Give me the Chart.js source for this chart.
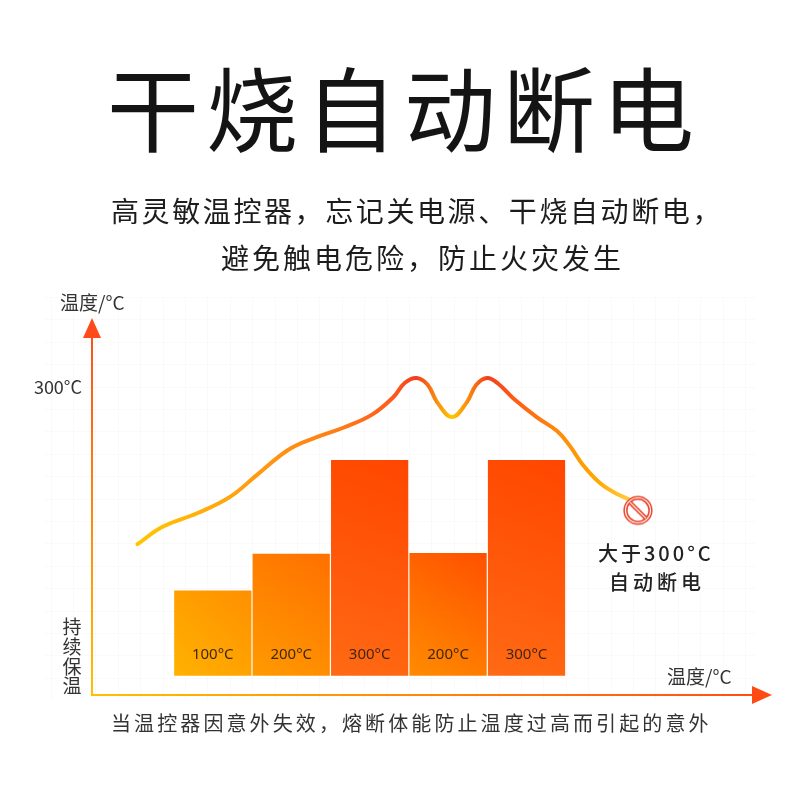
<!DOCTYPE html>
<html><head><meta charset="utf-8">
<script src="https://cdn.jsdelivr.net/npm/chart.js@4.4.1/dist/chart.umd.min.js"></script>
<style>
html,body{margin:0;padding:0;background:#fff;}
#wrap{position:relative;width:800px;height:800px;overflow:hidden;font-family:"Noto Sans CJK SC","Noto Sans",sans-serif;}
#c{position:absolute;left:0;top:0;}
.t{position:absolute;white-space:nowrap;}
#title{left:107px;top:59px;font-size:92px;line-height:92px;font-weight:400;color:#141414;letter-spacing:7px;}
#sub1{left:111px;top:196px;font-size:28px;line-height:28px;color:#1c1c1c;letter-spacing:2.6px;}
#sub2{left:221px;top:243px;font-size:28px;line-height:28px;color:#1c1c1c;letter-spacing:3px;}
#foot{left:111px;top:713px;font-size:20px;line-height:20px;color:#333;letter-spacing:3.1px;}
</style></head>
<body><div id="wrap">
<canvas id="c" width="800" height="800"></canvas>
<div class="t" id="title">干烧自动断电</div>
<div class="t" id="sub1">高灵敏温控器，忘记关电源、干烧自动断电，</div>
<div class="t" id="sub2">避免触电危险，防止火灾发生</div>
<div class="t" id="foot">当温控器因意外失效，熔断体能防止温度过高而引起的意外</div>
</div>
<script>
// ---- data ----
const categories = ["100°C","200°C","300°C","200°C","300°C"];
const barPositions = [1,2,3,4,5];
const barValues = [88,126,223,127,223];
const lineX = [0.04,0.36,0.80,1.22,1.56,1.96,2.30,2.68,3.03,3.30,3.45,3.60,3.74,3.86,4.05,4.24,4.36,4.50,4.64,4.83,5.13,5.39,5.55,5.72,5.94,6.13,6.32];
const lineY = [136,154,168,185,207.5,233.5,246,257,270,288,303,308,301,283,267.5,283,301,308,302,287,267.5,253,238,218,199,189,182];
const cutoffX = [6.42];
const cutoffY = [171];
const yTickValue = 300;
const yTickLabel = "300°C";
const yAxisTitle = "温度/°C";
const xAxisTitle = "温度/°C";
const keepWarmLabel = ["持","续","保","温"];
const cutoffLabel = ["大于300°C","自动断电"];

// ---- styles ----
const barGradients = [["#ffb200","#ff8f00"],["#ff9a00","#ff7000"],["#ff6a14","#ff4600"],["#ff8c00","#ff5000"],["#ff6a14","#ff4600"]];
const lineStops = [[0.04,"#ffc600"],[1.5,"#ff9c12"],[2.6,"#ff7c16"],[3.3,"#ff5a1e"],[3.6,"#f23f1e"],[4.05,"#ffc800"],[4.5,"#f23f1e"],[4.9,"#ff6014"],[5.4,"#ff8a0a"],[5.9,"#ffa800"],[6.32,"#ffcd45"]];
const FONT = '"Noto Sans CJK SC","Noto Sans",sans-serif';

// icon canvas (prohibited sign)
const icon = document.createElement('canvas');
icon.width = 34; icon.height = 34;
(function(){
  const g = icon.getContext('2d');
  const c = 17, r = 12.5;
  g.strokeStyle = '#e8432a'; g.lineWidth = 4.2;
  g.beginPath(); g.arc(c,c,r,0,Math.PI*2); g.stroke();
  const d = r*Math.SQRT1_2;
  g.lineCap='butt';
  g.beginPath(); g.moveTo(c-d,c-d); g.lineTo(c+d,c+d); g.stroke();
  g.strokeStyle = '#fff'; g.lineWidth = 1.2;
  g.beginPath(); g.arc(c,c,r,0,Math.PI*2); g.stroke();
  g.beginPath(); g.moveTo(c-d+1,c-d+1); g.lineTo(c+d-1,c+d-1); g.stroke();
})();

const decor = {
  id:'decor',
  beforeDraw(chart){
    const {ctx, chartArea:ca} = chart;
    ctx.save();
    ctx.strokeStyle = 'rgba(0,0,0,0.02)'; ctx.lineWidth = 1;
    const step = 22.4;
    const xr = ca.right - 27, yt = ca.top - 21;
    for(let x = xr; x > 45; x -= step){ ctx.beginPath(); ctx.moveTo(Math.round(x)+0.5, yt); ctx.lineTo(Math.round(x)+0.5, ca.bottom+5); ctx.stroke(); }
    for(let y = yt; y < ca.bottom+5; y += step){ ctx.beginPath(); ctx.moveTo(45, Math.round(y)+0.5); ctx.lineTo(xr+10, Math.round(y)+0.5); ctx.stroke(); }
    ctx.restore();
  },
  afterDraw(chart){
    const {ctx, chartArea:ca, scales} = chart;
    const x0 = ca.left, y0 = ca.bottom;
    ctx.save();
    // y axis
    let g = ctx.createLinearGradient(0,y0,0,ca.top);
    g.addColorStop(0,'#ffc000'); g.addColorStop(1,'#ff4a1a');
    ctx.strokeStyle = g; ctx.lineWidth = 2;
    ctx.beginPath(); ctx.moveTo(x0,y0+1); ctx.lineTo(x0,ca.top+14); ctx.stroke();
    ctx.fillStyle = '#ff4a1a';
    ctx.beginPath(); ctx.moveTo(x0,ca.top); ctx.lineTo(x0-9,ca.top+20); ctx.lineTo(x0+9,ca.top+20); ctx.closePath(); ctx.fill();
    // x axis
    g = ctx.createLinearGradient(x0,0,ca.right,0);
    g.addColorStop(0,'#ffc000'); g.addColorStop(1,'#ff4a14');
    ctx.strokeStyle = g;
    ctx.beginPath(); ctx.moveTo(x0-1,y0); ctx.lineTo(ca.right-14,y0); ctx.stroke();
    ctx.fillStyle = '#ff4a14';
    ctx.beginPath(); ctx.moveTo(ca.right,y0); ctx.lineTo(ca.right-20,y0-9); ctx.lineTo(ca.right-20,y0+9); ctx.closePath(); ctx.fill();
    // labels
    ctx.fillStyle = '#333';
    ctx.textBaseline = 'middle';
    ctx.font = '19px '+FONT;
    ctx.textAlign = 'left';
    ctx.fillText(yAxisTitle, x0-32, ca.top-15);
    ctx.fillText(xAxisTitle, ca.right-105, y0-18);
    ctx.font = '18px '+FONT;
    ctx.textAlign = 'right';
    ctx.fillText(yTickLabel, x0-10, scales.y.getPixelForValue(yTickValue)+1);
    ctx.textAlign = 'center';
    ctx.font = '19px '+FONT;
    keepWarmLabel.forEach((ch,i)=>{ ctx.fillText(ch, x0-20, y0-68+i*19.7); });
    // bar labels
    const bm = chart.getDatasetMeta(0);
    ctx.font = '15px "Noto Sans",sans-serif';
    ctx.fillStyle = '#3d2814';
    bm.data.forEach((el,i)=>{ ctx.fillText(categories[i], el.x, scales.y.getPixelForValue(0)-21); });
    // cutoff label
    const im = chart.getDatasetMeta(2).data[0];
    ctx.fillStyle = '#222';
    ctx.font = '500 20px '+FONT;
    ctx.letterSpacing = '3px';
    ctx.fillText(cutoffLabel[0], im.x+18, im.y+43);
    ctx.letterSpacing = '4px';
    ctx.fillText(cutoffLabel[1], im.x+19, im.y+72);
    ctx.restore();
  }
};

new Chart(document.getElementById('c'), {
  data:{
    datasets:[
      { type:'bar', data: barPositions.map((x,i)=>({x, y:barValues[i]})),
        categoryPercentage:1, barPercentage:0.985, borderWidth:0, order:2,
        backgroundColor: ctx => {
          const chart = ctx.chart, ca = chart.chartArea;
          if(!ca || ctx.type!=='data') return '#ff7a00';
          const xs = chart.scales.x, ys = chart.scales.y, i = ctx.dataIndex;
          const half = (xs.getPixelForValue(1)-xs.getPixelForValue(0))/2;
          const cx = xs.getPixelForValue(barPositions[i]);
          const g = chart.ctx.createLinearGradient(cx-half, ys.getPixelForValue(0), cx+half, ys.getPixelForValue(barValues[i]));
          g.addColorStop(0, barGradients[i][0]); g.addColorStop(1, barGradients[i][1]);
          return g;
        } },
      { type:'line', data: lineX.map((x,i)=>({x, y:lineY[i]})), order:1,
        borderWidth:4, pointRadius:0, tension:0.4, borderCapStyle:'round', borderJoinStyle:'round',
        borderColor: ctx => {
          const chart = ctx.chart, ca = chart.chartArea;
          if(!ca) return '#ff8a00';
          const xs = chart.scales.x;
          const a = xs.getPixelForValue(lineX[0]), b = xs.getPixelForValue(lineX[lineX.length-1]);
          const g = chart.ctx.createLinearGradient(a,0,b,0);
          lineStops.forEach(([v,c])=>{ g.addColorStop(Math.min(1,Math.max(0,(xs.getPixelForValue(v)-a)/(b-a))), c); });
          return g;
        } },
      { type:'scatter', data: cutoffX.map((x,i)=>({x, y:cutoffY[i]})), order:0,
        pointStyle: icon, pointRadius:17, pointHoverRadius:17 }
    ]
  },
  options:{
    responsive:false, animation:false, events:[],
    layout:{padding:{left:92,right:28,top:318,bottom:105}},
    plugins:{legend:{display:false}, tooltip:{enabled:false}},
    scales:{
      x:{type:'linear', min:-0.54, max:8.13, offset:false, display:false, ticks:{stepSize:1, includeBounds:false}},
      y:{type:'linear', min:-20, max:370, display:false}
    }
  },
  plugins:[decor]
});
</script>
</body></html>
